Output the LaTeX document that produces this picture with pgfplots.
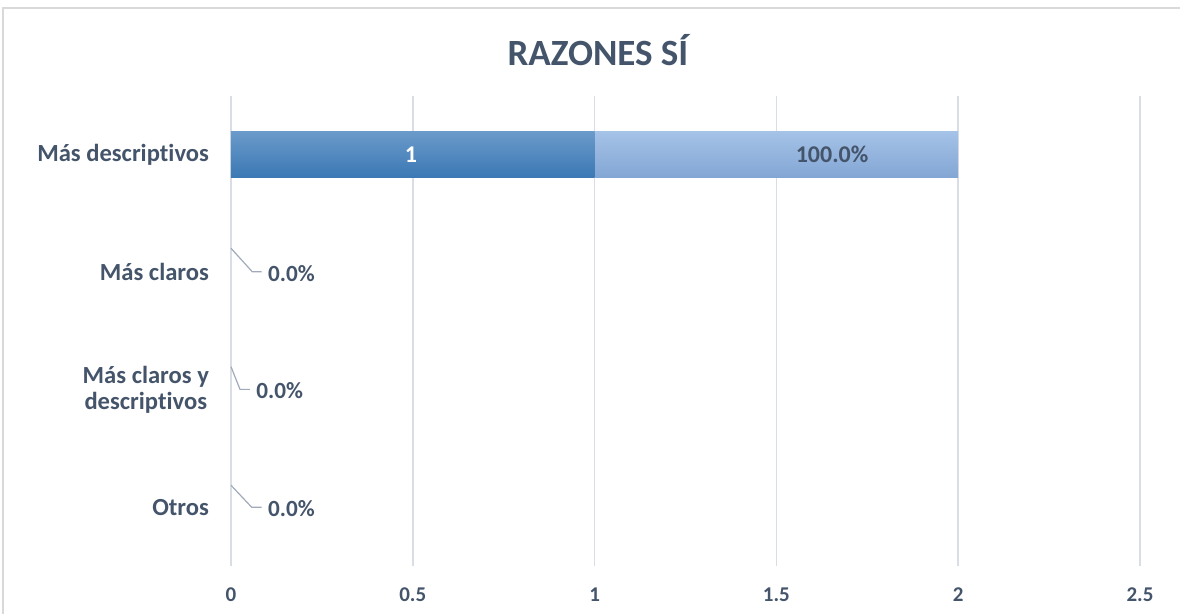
\documentclass[border=0pt]{standalone}
\usepackage{fontspec}
\setmainfont{Carlito}[Ligatures=NoCommon]
\usepackage{pgfplots}
\pgfplotsset{compat=1.18}
\definecolor{textc}{RGB}{68,84,106}
\definecolor{gridc}{RGB}{217,222,230}
\definecolor{baroneTop}{RGB}{106,154,202}
\definecolor{baroneBot}{RGB}{59,120,180}
\definecolor{bartwoTop}{RGB}{165,194,231}
\definecolor{bartwoBot}{RGB}{130,166,212}
\definecolor{leadc}{RGB}{160,170,186}
\definecolor{framec}{RGB}{217,217,217}
\begin{document}
\begin{tikzpicture}
\path[use as bounding box] (0,0) rectangle (590pt,307pt);
\draw[framec, line width=1pt] (1.5pt,303pt) rectangle (600pt,-10pt);
\node[textc, font=\fontsize{18.5}{22}\selectfont\bfseries] at (299pt,282pt) {RAZONES SÍ};
\begin{axis}[
  at={(115.5pt,24pt)}, anchor=south west,
  scale only axis, width=454.5pt, height=235pt,
  xmin=0, xmax=2.5, ymin=-0.5, ymax=3.5,
  xbar stacked, bar width=23pt,
  ytick={0,1,2,3},
  yticklabels={Otros, {Más claros y\\descriptivos}, Más claros, Más descriptivos},
  xtick={0,0.5,1,1.5,2,2.5},
  xticklabels={0,0.5,1,1.5,2,2.5},
  xmajorgrids, grid style={color=gridc, line width=0.8pt},
  axis line style={draw=none},
  major tick length=0pt,
  xticklabel style={textc, font=\fontsize{10.5}{12.5}\selectfont\bfseries, yshift=-7.5pt},
  yticklabel style={textc, font=\fontsize{12.3}{13}\selectfont\bfseries, align=center, xshift=-7.5pt},
  clip=false,
]
\addplot[draw=none, top color=baroneTop, bottom color=baroneBot] coordinates {(1,3) (0,2) (0,1) (0,0)};
\addplot[draw=none, top color=bartwoTop, bottom color=bartwoBot] coordinates {(1,3) (0,2) (0,1) (0,0)};
\coordinate (labone) at (axis cs:0.495,3);
\coordinate (labtwo) at (axis cs:1.653,3);
\draw[leadc, line width=0.6pt] (axis cs:0,2.204) -- (axis cs:0.0586,2.004) -- (axis cs:0.0844,2.004);
\draw[leadc, line width=0.6pt] (axis cs:0,1.196) -- (axis cs:0.0248,1.003) -- (axis cs:0.052,1.003);
\draw[leadc, line width=0.6pt] (axis cs:0,0.187) -- (axis cs:0.0569,0.0) -- (axis cs:0.0844,0.0);
\node[textc, anchor=west, inner sep=0pt, font=\fontsize{11.6}{13}\selectfont\bfseries] at (axis cs:0.101,1.99) {0.0\%};
\node[textc, anchor=west, inner sep=0pt, font=\fontsize{11.6}{13}\selectfont\bfseries] at (axis cs:0.0688,0.99) {0.0\%};
\node[textc, anchor=west, inner sep=0pt, font=\fontsize{11.6}{13}\selectfont\bfseries] at (axis cs:0.101,-0.01) {0.0\%};
\end{axis}
\node[white, font=\fontsize{12}{14}\selectfont\bfseries] at (labone) {1};
\node[textc, font=\fontsize{12}{14}\selectfont\bfseries] at (labtwo) {100.0\%};
\end{tikzpicture}
\end{document}
